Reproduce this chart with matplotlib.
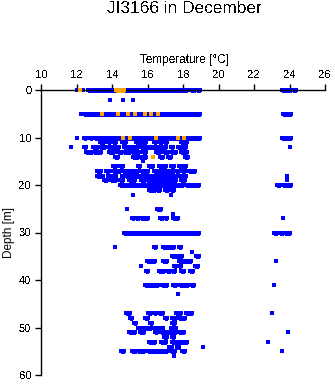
import matplotlib
matplotlib.use("Agg")
import matplotlib.pyplot as plt

plt.rcParams['font.family'] = ['Liberation Sans', 'DejaVu Sans']
plt.rcParams['text.antialiased'] = False
plt.rcParams['lines.antialiased'] = False

title = "JI3166 in December"
x_label = "Temperature [\u00b0C]"
y_label = "Depth [m]"
x_ticks = [10, 12, 14, 16, 18, 20, 22, 24, 26]
y_ticks = [0, 10, 20, 30, 40, 50, 60]

# Depth of each observation row (m)
depth_m = [0, 2, 5, 10, 11, 12, 13, 14, 15, 16, 17, 18, 19, 20, 21, 22,
           25, 26, 27, 30, 33, 34, 35, 36, 37, 38, 41, 43,
           47, 48, 49, 50, 51, 52, 53, 54, 55, 56]

# Blue observations per row: (start, end) temperature runs in deg C (single points have start == end)
blue_runs = [
    [(12.0, 12.0), (12.35, 12.35), (12.65, 14.15), (14.75, 18.2), (18.45, 18.7), (18.8, 18.95), (23.6, 24.1), (24.2, 24.35)],
    [(13.9, 13.9), (14.6, 14.6), (15.2, 15.2)],
    [(12.25, 12.25), (12.45, 18.2), (18.3, 18.95), (23.65, 24.1)],
    [(12.0, 12.0), (12.4, 12.55), (12.75, 12.9), (13.05, 13.3), (13.35, 18.2), (18.3, 18.95), (23.55, 24.1)],
    [(13.35, 13.55), (13.75, 13.9), (14.05, 14.2), (14.55, 14.8), (15.35, 15.9), (16.35, 16.5), (16.65, 16.8), (16.95, 17.1), (17.9, 18.2)],
    [(11.7, 11.7), (12.45, 12.55), (12.95, 13.2), (13.3, 13.6), (13.75, 14.4), (14.65, 15.0), (15.05, 15.45), (15.65, 15.9), (15.95, 17.05), (17.3, 17.45), (17.7, 18.15), (24.0, 24.0)],
    [(12.55, 12.7), (12.75, 12.9), (13.0, 13.4), (13.85, 14.1), (14.35, 14.55), (14.65, 15.0), (15.15, 15.5), (15.75, 15.9), (16.5, 16.7), (16.95, 17.15), (17.35, 17.6), (17.9, 18.2)],
    [(14.15, 14.35), (15.2, 15.45), (15.55, 15.9), (16.7, 16.85), (17.15, 17.35), (18.1, 18.3)],
    [(15.75, 15.75)],
    [(14.05, 14.2), (14.45, 14.6), (15.45, 15.6), (16.1, 16.3), (16.65, 17.05), (17.35, 17.5), (17.8, 18.15)],
    [(13.15, 13.4), (13.65, 13.85), (14.05, 14.2), (14.3, 14.45), (14.6, 15.45), (15.65, 16.0), (16.35, 17.5), (17.6, 17.8), (17.95, 18.1), (18.35, 18.65)],
    [(13.15, 13.3), (13.4, 13.5), (13.8, 14.2), (14.55, 14.7), (14.8, 15.1), (15.2, 16.0), (16.1, 16.75), (17.0, 17.2), (17.4, 17.6), (17.8, 18.15), (23.85, 23.85)],
    [(13.55, 13.7), (13.95, 14.2), (14.45, 14.6), (14.95, 15.1), (15.2, 15.3), (15.65, 15.85), (15.95, 17.6), (17.9, 18.1), (23.85, 23.85)],
    [(14.45, 18.0), (18.15, 18.9), (23.3, 23.45), (23.65, 24.1)],
    [(16.1, 16.4), (16.55, 16.7), (17.0, 17.15), (17.35, 17.5)],
    [(15.2, 15.2), (17.35, 17.35)],
    [(14.85, 14.85), (16.55, 16.75)],
    [(17.45, 17.45)],
    [(15.1, 15.25), (15.35, 15.5), (15.65, 16.0), (16.7, 16.85), (17.0, 17.1), (17.45, 17.7), (23.65, 23.65)],
    [(14.7, 18.9), (23.15, 23.3), (23.45, 23.65), (23.75, 24.0)],
    [(14.15, 14.15), (16.35, 16.5), (16.9, 17.3), (17.4, 17.5), (17.75, 17.9)],
    [(18.5, 18.5)],
    [(17.4, 17.75), (17.8, 17.95), (18.75, 18.9)],
    [(15.95, 16.45), (16.9, 17.1), (17.8, 18.2), (18.25, 18.45), (23.25, 23.25)],
    [(15.65, 15.65), (17.5, 17.6), (17.75, 17.9), (18.7, 18.85)],
    [(15.9, 16.05), (16.65, 16.95), (17.1, 17.25), (17.4, 17.55), (17.9, 18.05), (18.4, 18.55)],
    [(15.85, 16.0), (16.1, 16.6), (16.8, 17.1), (17.45, 17.6), (17.85, 18.3), (18.45, 18.6), (23.15, 23.15)],
    [(17.7, 17.7)],
    [(14.8, 15.0), (16.0, 16.2), (16.35, 16.5), (16.65, 16.9), (17.6, 17.9), (18.15, 18.5), (23.0, 23.0)],
    [(15.0, 15.15), (15.85, 16.0), (17.0, 17.1), (17.4, 17.6), (17.8, 18.1)],
    [(15.25, 15.35), (16.15, 16.25), (17.4, 17.55)],
    [(15.45, 16.0), (16.1, 16.2), (16.35, 16.9), (17.3, 17.6)],
    [(14.95, 15.1), (15.2, 15.3), (15.55, 15.8), (16.4, 16.55), (16.75, 17.6), (17.8, 18.05), (23.9, 23.9)],
    [(16.95, 17.1), (17.4, 17.5)],
    [(16.1, 16.4), (16.75, 17.05), (17.4, 18.2), (22.8, 22.8)],
    [(17.2, 17.4), (17.65, 17.8), (19.1, 19.1)],
    [(14.5, 14.7), (15.1, 15.35), (15.45, 15.8), (16.05, 16.2), (16.25, 17.1), (17.3, 17.55), (17.95, 18.1), (23.55, 23.55)],
    [(17.5, 17.5)],
]

# Orange (flagged) observations
orange_depth = [0, 0, 5, 5, 5, 5, 5, 5, 5, 10, 10, 10, 10, 10, 14]
orange_runs = [(12.2, 12.2), (14.2, 14.7), (13.45, 13.45), (14.35, 14.35), (14.9, 14.9), (15.3, 15.3),
               (15.85, 15.85), (16.2, 16.2), (16.6, 16.6), (14.6, 14.6), (15.0, 15.0), (16.5, 16.5),
               (17.7, 17.7), (18.05, 18.05), (16.3, 16.3)]

BLUE = "#0000ff"
ORANGE = "#ffa500"
MS = 2.3
LW = 2.2

fig = plt.figure(figsize=(3.35, 3.84), dpi=100)
ax = fig.add_axes([41 / 335, 1 - 375 / 384, 284 / 335, 285 / 384])

for d, runs in zip(depth_m, blue_runs):
    for a, b in runs:
        ax.plot([a, b], [d, d], color=BLUE, lw=LW, marker='s', ms=MS,
                mec=BLUE, mfc=BLUE, mew=0, solid_capstyle='butt', clip_on=False)

for d, (a, b) in zip(orange_depth, orange_runs):
    ax.plot([a, b], [d, d], color=ORANGE, lw=LW, marker='s', ms=MS,
            mec=ORANGE, mfc=ORANGE, mew=0, solid_capstyle='butt', zorder=3, clip_on=False)

ax.set_xlim(10, 26)
ax.set_ylim(60, 0)
ax.set_xticks(x_ticks)
ax.set_yticks(y_ticks)
ax.xaxis.tick_top()
ax.spines['bottom'].set_visible(False)
ax.spines['right'].set_visible(False)
ax.spines['top'].set_linewidth(1.0)
ax.spines['left'].set_linewidth(1.0)
ax.tick_params(axis='both', direction='out', length=4, width=1.0, labelsize=8, pad=3)

fig.text(184 / 335, 1 - 8.5 / 384, title, ha='center', va='center', fontsize=12.4)
fig.text(184.5 / 335, 1 - 60.5 / 384, x_label, ha='center', va='center', fontsize=8.5)
fig.text(9.5 / 335, 1 - 232 / 384, y_label, ha='center', va='center', rotation=90,
         fontsize=8.5, antialiased=True)

fig.savefig("out.png", dpi=100)
